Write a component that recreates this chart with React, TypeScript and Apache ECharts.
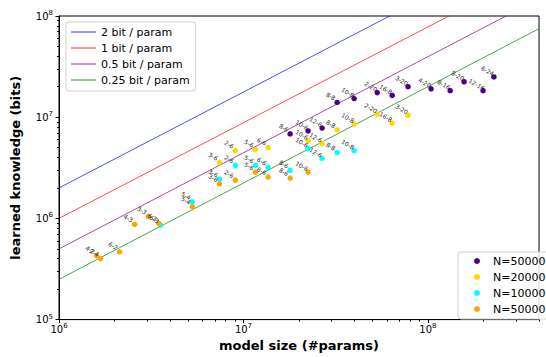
import React, { useEffect, useRef } from 'react';
import * as echarts from 'echarts';

// ---- tick values ----
const xMajorTicks = [1e6, 1e7, 1e8];
const xMinorTicks = [2e6, 3e6, 4e6, 5e6, 6e6, 7e6, 8e6, 9e6, 2e7, 3e7, 4e7, 5e7, 6e7, 7e7, 8e7, 9e7, 2e8, 3e8, 4e8];
const yMajorTicks = [1e5, 1e6, 1e7, 1e8];
const yMinorTicks = [2e5, 3e5, 4e5, 5e5, 6e5, 7e5, 8e5, 9e5, 2e6, 3e6, 4e6, 5e6, 6e6, 7e6, 8e6, 9e6, 2e7, 3e7, 4e7, 5e7, 6e7, 7e7, 8e7, 9e7];

// ---- reference lines (bits / param) ----
const lineNames = ['2 bit / param', '1 bit / param', '0.5 bit / param', '0.25 bit / param'];
const lineColors = ['rgba(0,0,255,0.7)', 'rgba(255,0,0,0.7)', 'rgba(128,0,128,0.7)', 'rgba(0,128,0,0.7)'];
const blueLine = [[1e6, 2e6], [6.2e7, 1e8]];
const redLine = [[1e6, 1e6], [1.3e8, 1e8]];
const purpleLine = [[1e6, 5e5], [2.65e8, 1e8]];
const greenLine = [[1e6, 2.5e5], [4e8, 7.5e7]];

// ---- scatter series ----
const scatterNames = ['N=500000', 'N=200000', 'N=100000', 'N=50000'];
const scatterColors = ['#4B0082', '#FFD700', '#00FFFF', '#FFA500'];

const purpleLabels = ['8-6', '10-6', '12-6', '8-8', '10-8', '2-20', '16-8', '3-20', '4-20', '8-16', '8-20', '12-16', '6-24'];
const purpleX = [1.79e7, 2.24e7, 2.67e7, 3.22e7, 3.98e7, 5.31e7, 6.4e7, 7.8e7, 1.04e8, 1.32e8, 1.57e8, 1.99e8, 2.28e8];
const purpleY = [6.84e6, 7.31e6, 7.82e6, 1.4e7, 1.53e7, 1.75e7, 1.64e7, 2.0e7, 1.91e7, 1.83e7, 2.24e7, 1.83e7, 2.5e7];

const yellowLabels = ['3-6', '2-6', '5-6', '6-6', '10-6', '12-6', '8-8', '10-8', '2-20', '16-8', '3-20'];
const yellowX = [7.41e6, 9.04e6, 1.16e7, 1.36e7, 2.24e7, 2.67e7, 3.22e7, 3.98e7, 5.31e7, 6.4e7, 7.8e7];
const yellowY = [3.57e6, 4.68e6, 4.79e6, 5.0e6, 5.85e6, 5.47e6, 7.48e6, 8.56e6, 1.07e7, 8.75e6, 1.045e7];

const cyanLabels = ['6-3', '5-4', '3-6', '2-6', '5-6', '6-6', '8-6', '10-6', '12-6', '8-8', '10-8'];
const cyanX = [3.55e6, 5.28e6, 7.41e6, 9.04e6, 1.16e7, 1.36e7, 1.79e7, 2.24e7, 2.67e7, 3.22e7, 3.98e7];
const cyanY = [8.56e5, 1.46e6, 2.44e6, 3.34e6, 3.34e6, 3.2e6, 2.99e6, 4.89e6, 3.91e6, 4.47e6, 4.68e6];

const orangeLabels = ['4-2', '2-4', '6-2', '4-3', '3-3', '6-3', '5-4', '3-6', '2-6', '5-6', '6-6', '8-6', '10-6'];
const orangeX = [1.6e6, 1.68e6, 2.13e6, 2.57e6, 3.05e6, 3.47e6, 5.28e6, 7.41e6, 9.04e6, 1.16e7, 1.36e7, 1.79e7, 2.24e7];
const orangeY = [4.28e5, 4.0e5, 4.68e5, 8.75e5, 1.045e6, 8.93e5, 1.31e6, 2.19e6, 2.39e6, 2.86e6, 2.56e6, 2.5e6, 2.86e6];

const FONT = 'DejaVu Sans';
const CHART_W = 600;

function supFormatter(v: number) {
  const e = Math.round(Math.log10(v));
  return `{a|10}{b|${e}}`;
}

const richSup = {
  a: { fontSize: 10, fontFamily: FONT, color: '#000', lineHeight: 13 },
  b: { fontSize: 7, fontFamily: FONT, color: '#000', verticalAlign: 'top', lineHeight: 8 },
};

function scatterData(xs: number[], ys: number[], labels: string[]) {
  return xs.map((x, i) => ({ value: [x, ys[i]], name: labels[i] }));
}

export default function App() {
  const ref = useRef<HTMLDivElement>(null);
  useEffect(() => {
    if (!ref.current) return;
    const chart = echarts.init(ref.current, undefined, { renderer: 'svg' });
    const lines = [blueLine, redLine, purpleLine, greenLine];
    const scatters = [
      scatterData(purpleX, purpleY, purpleLabels),
      scatterData(yellowX, yellowY, yellowLabels),
      scatterData(cyanX, cyanY, cyanLabels),
      scatterData(orangeX, orangeY, orangeLabels),
    ];
    const series: any[] = [];
    lines.forEach((d, i) => {
      series.push({
        type: 'line',
        name: lineNames[i],
        data: d,
        symbol: 'none',
        showSymbol: false,
        lineStyle: { color: lineColors[i], width: 1 },
        itemStyle: { color: lineColors[i] },
        z: 2,
      });
    });
    scatters.forEach((d, i) => {
      series.push({
        type: 'scatter',
        name: scatterNames[i],
        data: d,
        symbol: 'circle',
        symbolSize: 5.5,
        itemStyle: { color: scatterColors[i], opacity: 1 },
        label: {
          show: true,
          formatter: '{b}',
          position: [-3.5, -3.5],
          align: 'center',
          verticalAlign: 'middle',
          rotate: -30,
          fontSize: 6,
          fontFamily: FONT,
          color: '#222',
        },
        labelLayout: { hideOverlap: false },
        z: 3,
      });
    });

    chart.setOption({
      animation: false,
      backgroundColor: '#fff',
      grid: {
        left: 59,
        right: CHART_W - 539,
        top: 16,
        bottom: 32,
        show: true,
        borderColor: '#000',
        borderWidth: 1,
        backgroundColor: 'transparent',
      },
      legend: [
        {
          data: lineNames.map((n) => ({ name: n, icon: 'rect' })),
          orient: 'vertical',
          left: 66,
          top: 22,
          padding: [4, 6, 5, 5],
          itemWidth: 25,
          itemHeight: 1.2,
          itemGap: 4,
          backgroundColor: 'rgba(255,255,255,0.85)',
          borderColor: '#d0d0d0',
          borderWidth: 1,
          borderRadius: 3,
          selectedMode: false,
          textStyle: { fontSize: 11, fontFamily: FONT, color: '#000', lineHeight: 12 },
        },
        {
          data: scatterNames.map((n) => ({ name: n, icon: 'circle' })),
          orient: 'vertical',
          left: 458,
          top: 252,
          padding: [3, 10, 4, 16],
          itemWidth: 22,
          itemHeight: 6,
          itemGap: 4,
          backgroundColor: 'rgba(255,255,255,0.85)',
          borderColor: '#d0d0d0',
          borderWidth: 1,
          borderRadius: 3,
          selectedMode: false,
          textStyle: { fontSize: 11, fontFamily: FONT, color: '#000', lineHeight: 12 },
        },
      ],
      xAxis: [
        {
          type: 'log',
          logBase: 10,
          min: 1e6,
          max: 4e8,
          position: 'bottom',
          axisLine: { show: true, lineStyle: { color: '#000', width: 1 } },
          axisTick: { show: true, length: 3.5, customValues: xMajorTicks, lineStyle: { color: '#000' } },
          axisLabel: { customValues: xMajorTicks, formatter: supFormatter, margin: 3, rich: richSup },
          splitLine: { show: false },
          name: 'model size (#params)',
          nameLocation: 'middle',
          nameGap: 15,
          nameTextStyle: { fontSize: 13, fontWeight: 'bold', fontFamily: FONT, color: '#000' },
        },
        {
          type: 'log',
          logBase: 10,
          min: 1e6,
          max: 4e8,
          position: 'bottom',
          axisLine: { show: false },
          axisTick: { show: true, length: 2, customValues: xMinorTicks, lineStyle: { color: '#000' } },
          axisLabel: { show: false },
          splitLine: { show: false },
        },
      ],
      yAxis: [
        {
          type: 'log',
          logBase: 10,
          min: 1e5,
          max: 1e8,
          position: 'left',
          axisLine: { show: true, lineStyle: { color: '#000', width: 1 } },
          axisTick: { show: true, length: 3.5, customValues: yMajorTicks, lineStyle: { color: '#000' } },
          axisLabel: { customValues: yMajorTicks, formatter: supFormatter, margin: 6, rich: richSup },
          splitLine: { show: false },
          name: 'learned knowledge (bits)',
          nameLocation: 'middle',
          nameRotate: 90,
          nameGap: 37,
          nameTextStyle: { fontSize: 13, fontWeight: 'bold', fontFamily: FONT, color: '#000' },
        },
        {
          type: 'log',
          logBase: 10,
          min: 1e5,
          max: 1e8,
          position: 'left',
          axisLine: { show: false },
          axisTick: { show: true, length: 2, customValues: yMinorTicks, lineStyle: { color: '#000' } },
          axisLabel: { show: false },
          splitLine: { show: false },
        },
      ],
      series,
    });
    return () => chart.dispose();
  }, []);
  return (
    <div style={{ position: 'fixed', left: 0, top: 0, width: 546, height: 357, overflow: 'hidden', background: '#fff' }}>
      <div ref={ref} style={{ width: CHART_W, height: 357 }} />
    </div>
  );
}
